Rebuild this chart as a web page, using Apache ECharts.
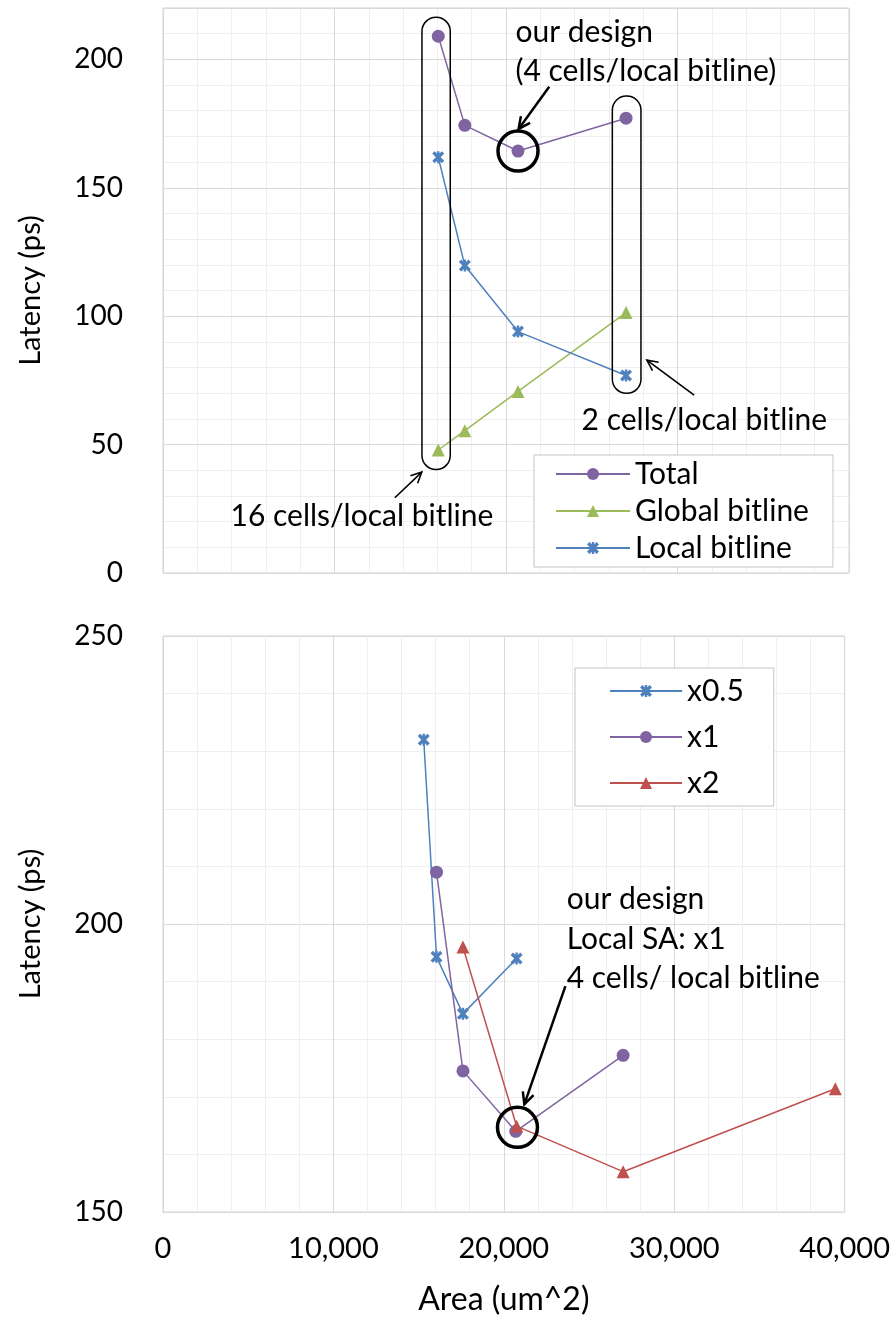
<!DOCTYPE html>
<html><head><meta charset="utf-8">
<script src="https://cdn.jsdelivr.net/npm/echarts@6/dist/echarts.min.js"></script>
<style>html,body{margin:0;padding:0;background:#fff}#c{width:893px;height:1321px}</style>
</head><body><div id="c"></div>
<script>
// ---- Data (top panel: latency breakdown vs area) ----
const topArea   = [16050, 17600, 20700, 27000];
const topTotal  = [209, 174.3, 164.3, 177.1];
const topGlobal = [47.9, 55.4, 70.7, 101.4];
const topLocal  = [161.9, 119.7, 94, 76.9];
// ---- Data (bottom panel: local SA sizing) ----
const x05Area = [15300, 16050, 17600, 20750];
const x05Lat  = [232, 194.3, 184.4, 194];
const x1Area  = [16050, 17600, 20700, 27000];
const x1Lat   = [209, 174.5, 164, 177.2];
const x2Area  = [17600, 20750, 27000, 39450];
const x2Lat   = [196, 164.9, 157, 171.4];
const xTicks = [0, 10000, 20000, 30000, 40000];

const FONT = 'Lato';
const C_PURPLE = '#8064A2', C_GREEN = '#9BBB59', C_BLUE = '#4F81BD', C_RED = '#C0504D';
const STAR = 'path://M2,0L5,3L8,0L10,2L7,5L10,8L8,10L5,7L2,10L0,8L3,5L0,2ZM4,0L6,0L6,10L4,10Z';

const zip = (xs, ys) => xs.map((x, i) => [x, ys[i]]);

function lineSeries(name, xs, ys, color, symbol, size, xi, yi) {
  return {
    name, type: 'line', xAxisIndex: xi, yAxisIndex: yi,
    data: zip(xs, ys), symbol, symbolSize: size, showSymbol: true,
    lineStyle: { color, width: 1.5 }, itemStyle: { color, opacity: 1 },
    emphasis: { disabled: true }, animation: false, z: 3
  };
}

const xBase = {
  type: 'value', min: 0, max: 40000, interval: 10000,
  axisLine: { show: false }, axisTick: { show: false },
  splitLine: { show: true, lineStyle: { color: '#d9d9d9', width: 1 } },
  minorTick: { show: false, splitNumber: 5 },
  minorSplitLine: { show: true, lineStyle: { color: '#efefef', width: 1 } }
};

const chart = echarts.init(document.getElementById('c'), null, { renderer: 'canvas' });
chart.setOption({
  animation: false,
  backgroundColor: '#fff',
  textStyle: { fontFamily: FONT },
  grid: [
    { left: 163, right: 44, top: 8, height: 565, show: true, borderColor: '#d0d0d0', borderWidth: 1, containLabel: false },
    { left: 163, right: 44, top: 636, height: 576, show: true, borderColor: '#d0d0d0', borderWidth: 1, containLabel: false }
  ],
  xAxis: [
    Object.assign({}, xBase, { gridIndex: 0, axisLabel: { show: false } }),
    Object.assign({}, xBase, {
      gridIndex: 1,
      axisLabel: { show: true, margin: 22, fontSize: 29, fontFamily: FONT, color: '#000',
        formatter: v => xTicks.includes(v) ? v.toLocaleString('en-US') : '' },
      name: 'Area (um^2)', nameLocation: 'middle', nameGap: 72,
      nameTextStyle: { fontSize: 32, fontFamily: FONT, color: '#000' }
    })
  ],
  yAxis: [
    { // minor gridlines top panel
      gridIndex: 0, type: 'value', min: 0, max: 220, interval: 10, position: 'right', z: 0,
      axisLine: { show: false }, axisTick: { show: false }, axisLabel: { show: false },
      splitLine: { show: true, lineStyle: { color: '#efefef', width: 1 } }
    },
    {
      gridIndex: 0, type: 'value', min: 0, max: 220, interval: 50, position: 'left', z: 1,
      axisLine: { show: false }, axisTick: { show: false },
      axisLabel: { show: true, margin: 40, fontSize: 28, fontFamily: FONT, color: '#000', showMaxLabel: false },
      splitLine: { show: true, lineStyle: { color: '#d9d9d9', width: 1 } },
      name: 'Latency (ps)', nameLocation: 'middle', nameGap: 118,
      nameTextStyle: { fontSize: 29, fontFamily: FONT, color: '#000' }
    },
    {
      gridIndex: 1, type: 'value', min: 150, max: 250, interval: 50, position: 'left',
      axisLine: { show: false }, axisTick: { show: false },
      axisLabel: { show: true, margin: 40, fontSize: 28, fontFamily: FONT, color: '#000' },
      splitLine: { show: true, lineStyle: { color: '#d9d9d9', width: 1 } },
      minorTick: { show: false, splitNumber: 5 },
      minorSplitLine: { show: true, lineStyle: { color: '#efefef', width: 1 } },
      name: 'Latency (ps)', nameLocation: 'middle', nameGap: 118,
      nameTextStyle: { fontSize: 29, fontFamily: FONT, color: '#000' }
    }
  ],
  legend: [
    {
      data: ['Total', 'Global bitline', 'Local bitline'], orient: 'vertical',
      left: 534, top: 455, padding: [4, 24, 4, 21], itemGap: 7, itemWidth: 74, itemHeight: 15,
      backgroundColor: '#fff', borderColor: '#c4c4c4', borderWidth: 1, borderRadius: 0,
      selectedMode: false, textStyle: { fontSize: 30, fontFamily: FONT, color: '#000', lineHeight: 30 }
    },
    {
      data: ['x0.5', 'x1', 'x2'], orient: 'vertical',
      left: 575, top: 668, padding: [8, 30, 8, 34], itemGap: 16, itemWidth: 72, itemHeight: 15,
      backgroundColor: '#fff', borderColor: '#c4c4c4', borderWidth: 1, borderRadius: 0,
      selectedMode: false, textStyle: { fontSize: 30, fontFamily: FONT, color: '#000', lineHeight: 30 }
    }
  ],
  series: [
    lineSeries('Total', topArea, topTotal, C_PURPLE, 'circle', 13, 0, 1),
    lineSeries('Global bitline', topArea, topGlobal, C_GREEN, 'triangle', 13, 0, 1),
    lineSeries('Local bitline', topArea, topLocal, C_BLUE, STAR, 12, 0, 1),
    lineSeries('x0.5', x05Area, x05Lat, C_BLUE, STAR, 12, 1, 2),
    lineSeries('x1', x1Area, x1Lat, C_PURPLE, 'circle', 13, 1, 2),
    lineSeries('x2', x2Area, x2Lat, C_RED, 'triangle', 13, 1, 2)
  ]
});

// ---- Annotations (in data coordinates, converted to pixels) ----
const topBoxes = [ [15100, 16750, 40.3, 216.4], [26200, 27870, 70, 185.7] ];
const topCircle = [20700, 164.3];
const botCircle = [20800, 164.7];
const topArrows = [ [[22520, 189.3], [20735, 172.9]], [[30970, 69.3], [28215, 82.9]], [[13517, 29.3], [15092, 39.3]] ];
const botArrows = [ [[23613, 189.2], [21204, 168.7]] ];
const topTexts = [ ['our design', 20550, 210.6], ['(4 cells/local bitline)', 20550, 195.2], ['2 cells/local bitline', 24409, 59.3], ['16 cells/local bitline', 3937, 22.1] ];
const botTexts = [ ['our design', 23691, 204.2], ['Local SA: x1', 23691, 197.4], ['4 cells/ local bitline', 23691, 190.5] ];

function px(g, p) { return chart.convertToPixel({ gridIndex: g }, p); }
const gfx = [];
topBoxes.forEach(b => {
  const a = px(0, [b[0], b[3]]), c = px(0, [b[1], b[2]]);
  gfx.push({ type: 'rect', z: 10, shape: { x: a[0], y: a[1], width: c[0] - a[0], height: c[1] - a[1], r: 14 },
    style: { fill: 'none', stroke: '#000', lineWidth: 1.5 } });
});
[[0, topCircle], [1, botCircle]].forEach(([g, p]) => {
  const c = px(g, p);
  gfx.push({ type: 'circle', z: 10, shape: { cx: c[0], cy: c[1], r: 20 }, style: { fill: 'none', stroke: '#000', lineWidth: 3.5 } });
});
function arrow(g, from, to, lw, L) {
  const a = px(g, from), b = px(g, to);
  const ang = Math.atan2(b[1] - a[1], b[0] - a[0]);
  const sp = 0.45;
  const h1 = [b[0] - L * Math.cos(ang - sp), b[1] - L * Math.sin(ang - sp)];
  const h2 = [b[0] - L * Math.cos(ang + sp), b[1] - L * Math.sin(ang + sp)];
  gfx.push({ type: 'line', z: 10, shape: { x1: a[0], y1: a[1], x2: b[0], y2: b[1] }, style: { stroke: '#000', lineWidth: lw } });
  gfx.push({ type: 'polyline', z: 10, shape: { points: [h1, b, h2] }, style: { fill: 'none', stroke: '#000', lineWidth: lw } });
}
arrow(0, topArrows[0][0], topArrows[0][1], 2.5, 13);
arrow(0, topArrows[1][0], topArrows[1][1], 1.6, 12);
arrow(0, topArrows[2][0], topArrows[2][1], 1.6, 12);
arrow(1, botArrows[0][0], botArrows[0][1], 2.5, 13);
function addText(g, t) {
  const p = px(g, [t[1], t[2]]);
  gfx.push({ type: 'text', z: 11, x: p[0], y: p[1],
    style: { text: t[0], fill: '#000', font: '30px ' + FONT, align: 'left', verticalAlign: 'middle',
      textAlign: 'left', textVerticalAlign: 'middle' } });
}
topTexts.forEach(t => addText(0, t));
botTexts.forEach(t => addText(1, t));
chart.setOption({ graphic: gfx });
</script>
</body></html>
